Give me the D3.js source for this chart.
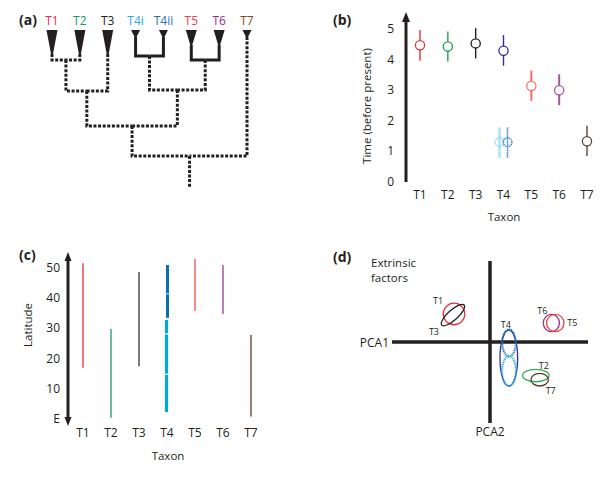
<!DOCTYPE html>
<html>
<head>
<meta charset="utf-8">
<script src="https://cdn.jsdelivr.net/npm/d3@7/dist/d3.min.js"></script>
<style>
body{margin:0;background:#fff;}
svg{font-family:"Open Sans",sans-serif;}
</style>
</head>
<body>
<svg id="fig" width="616" height="478"></svg>
<script>
// ---------- (a) tree ----------
var leafNames = ["T1","T2","T3","T4i","T4ii","T5","T6","T7"];
var leafColors = ["#ec2a4a","#159a6a","#231f20","#27aae1","#2b6cb4","#ee3d4f","#9a2b8d","#8b4513"];
var leafTip = [1.0,1.0,1.0,0.29,0.29,0.63,0.63,0.29]; // triangle length, age units
// [name, childA, childB, age, solid]
var treeJoins = [
	["n12","T1","T2",1.25,false],
	["n4","T4i","T4ii",1.08,true],
	["n56","T5","T6",1.25,true],
	["n123","n12","T3",2.55,false],
	["n456","n4","n56",2.5,false],
	["n16","n123","n456",4.0,false],
	["root","n16","T7",5.26,false]
];
var rootStem = 6.55;

// ---------- (b) time ----------
var taxa = ["T1","T2","T3","T4","T5","T6","T7"];
var timeColors = ["#e8303a","#1f9e57","#231f20","#2e3192","#f37164","#a2589f","#5b4436"];
var timeMid = [4.47,4.43,4.53,4.29,3.14,3.0,1.33];
var timeLo  = [3.96,3.94,4.04,3.80,2.65,2.51,0.85];
var timeHi  = [4.97,4.92,5.03,4.80,3.64,3.52,1.84];
var timeTicks = [0,1,2,3,4,5];
// T4 sub-lineages (dotted)
var subNames = ["T4i","T4ii"];
var subColors = ["#7fd3f0","#1c75bc"];
var subMid = [1.30,1.30];
var subLo = [0.80,0.80];
var subHi = [1.80,1.80];

// ---------- (c) latitude ----------
var latColors = ["#ec1c24","#138a5e","#231f20","#0b6fb0","#ef4136","#92278f","#4b2a1e"];
var latLo = [17,0.4,17.5,null,35.8,34.8,0.8];
var latHi = [51.6,29.8,48.7,null,53,51,27.8];
var latTicks = [0,10,20,30,40,50];
var latTickLabels = ["E","10","20","30","40","50"];
var t4DarkSegs = [[33.5,41.3],[41.6,51]];
var t4LightSegs = [[2.3,14.6],[15.0,28.0],[28.4,32.8]];

// ---------- (d) PCA ----------
// [taxon, pca1, pca2, r1, r2, angle, colour, dotted]
var pcaEllipses = [
	["T1",-0.367,0.346,0.110,0.133,0,"#e8303a",false],
	["T3",-0.378,0.333,0.153,0.062,-42,"#231f20",false],
	["T6",0.626,0.235,0.082,0.107,0,"#93328e",false],
	["T5",0.666,0.235,0.089,0.107,0,"#ef4136",false],
	["T4",0.192,-0.198,0.090,0.346,0,"#2e3192",false],
	["T4i",0.194,-0.012,0.068,0.167,0,"#1c75bc",true],
	["T4ii",0.194,-0.358,0.071,0.185,0,"#27aae1",true],
	["T2",0.467,-0.414,0.135,0.077,0,"#3aaa5c",false],
	["T7",0.507,-0.465,0.089,0.078,0,"#5a3a2a",false]
];

var svg = d3.select('#fig');

function panelLabel(txt, x, y){
	svg.append('text').attr('x', x).attr('y', y)
		.attr('font-size', 14).attr('font-weight', 'bold').attr('fill', '#231f20')
		.text(txt);
}

// ================= (a) =================
panelLabel('(a)', 19, 25);
var ax = d3.scalePoint().domain(leafNames).range([52, 247]);
var ay = d3.scaleLinear().domain([0, rootStem]).range([30, 187]);
var nodes = {};
leafNames.forEach(function(n, i){
	nodes[n] = {x: ax(n), age: leafTip[i], leaf: true};
});
treeJoins.forEach(function(j){
	nodes[j[0]] = {x: (nodes[j[1]].x + nodes[j[2]].x)/2, age: j[3], leaf: false};
});
var ga = svg.append('g');
treeJoins.forEach(function(j){
	var p = nodes[j[0]];
	[j[1], j[2]].forEach(function(c){
		var ch = nodes[c];
		ga.append('path')
			.attr('d', 'M' + ch.x + ',' + ay(ch.age) + 'V' + ay(p.age) + 'H' + p.x)
			.attr('fill', 'none').attr('stroke', '#231f20').attr('stroke-width', 3)
			.attr('stroke-dasharray', j[4] ? null : '3,1.6')
			.attr('stroke-linejoin', 'miter');
	});
});
ga.append('line')
	.attr('x1', nodes.root.x).attr('x2', nodes.root.x)
	.attr('y1', ay(nodes.root.age)).attr('y2', ay(rootStem))
	.attr('stroke', '#231f20').attr('stroke-width', 3).attr('stroke-dasharray', '3,1.6');
ga.selectAll('path.tri').data(leafNames).enter().append('path')
	.attr('class', 'tri')
	.attr('d', function(d, i){
		var x = ax(d), h = leafTip[i] > 0.5 ? 5.5 : 4.5;
		return 'M' + (x - h) + ',' + ay(0) + 'L' + (x + h) + ',' + ay(0) +
			'L' + (x + 1) + ',' + ay(leafTip[i]) + 'L' + (x - 1) + ',' + ay(leafTip[i]) + 'Z';
	})
	.attr('fill', '#231f20');
ga.selectAll('text.leaf').data(leafNames).enter().append('text')
	.attr('class', 'leaf')
	.attr('x', function(d){ return ax(d); })
	.attr('y', 25)
	.attr('text-anchor', 'middle').attr('font-size', 12)
	.attr('fill', function(d, i){ return leafColors[i]; })
	.text(function(d){ return d; });

// ================= (b) =================
panelLabel('(b)', 333, 25);
var bx = d3.scalePoint().domain(taxa).range([420, 587]);
var by = d3.scaleLinear().domain([0, 5]).range([182, 29]);
var gb = svg.append('g');
gb.append('line').attr('x1', 406).attr('x2', 406).attr('y1', by(0)).attr('y2', 20)
	.attr('stroke', '#231f20').attr('stroke-width', 3);
gb.append('path').attr('d', 'M402,22L406,12L410,22Z').attr('fill', '#231f20');
gb.selectAll('text.yt').data(timeTicks).enter().append('text')
	.attr('class', 'yt')
	.attr('x', 394).attr('y', function(d){ return by(d) + 4; })
	.attr('text-anchor', 'end').attr('font-size', 12).attr('fill', '#231f20')
	.text(function(d){ return d; });
gb.selectAll('line.err').data(taxa).enter().append('line')
	.attr('class', 'err')
	.attr('x1', function(d){ return bx(d); }).attr('x2', function(d){ return bx(d); })
	.attr('y1', function(d, i){ return by(timeLo[i]); })
	.attr('y2', function(d, i){ return by(timeHi[i]); })
	.attr('stroke', function(d, i){ return timeColors[i]; })
	.attr('stroke-width', function(d, i){ return (i == 4 || i == 5) ? 2 : 1.4; });
gb.selectAll('circle.pt').data(taxa).enter().append('circle')
	.attr('class', 'pt')
	.attr('cx', function(d){ return bx(d); })
	.attr('cy', function(d, i){ return by(timeMid[i]); })
	.attr('r', 4.6).attr('fill', '#fff')
	.attr('stroke', function(d, i){ return timeColors[i]; }).attr('stroke-width', 1.3);
var subOff = [-4, 4];
subNames.forEach(function(s, i){
	var x = bx('T4') + subOff[i];
	gb.append('line').attr('x1', x).attr('x2', x)
		.attr('y1', by(subLo[i])).attr('y2', by(subHi[i]))
		.attr('stroke', subColors[i]).attr('stroke-width', i == 0 ? 2.6 : 1.5)
		.attr('stroke-dasharray', '1.2,0.8');
	gb.append('circle').attr('cx', x).attr('cy', by(subMid[i])).attr('r', 4.4)
		.attr('fill', 'none').attr('stroke', subColors[i]).attr('stroke-width', 1.3)
		.attr('stroke-dasharray', '1.2,0.8');
});
gb.selectAll('text.xt').data(taxa).enter().append('text')
	.attr('class', 'xt')
	.attr('x', function(d){ return bx(d); }).attr('y', 199)
	.attr('text-anchor', 'middle').attr('font-size', 12).attr('fill', '#231f20')
	.text(function(d){ return d; });
gb.append('text').attr('x', 504).attr('y', 221).attr('text-anchor', 'middle')
	.attr('font-size', 11.5).attr('fill', '#231f20').text('Taxon');
gb.append('text').attr('transform', 'translate(371,106) rotate(-90)')
	.attr('text-anchor', 'middle').attr('font-size', 11.5).attr('fill', '#231f20')
	.text('Time (before present)');

// ================= (c) =================
panelLabel('(c)', 19, 260);
var cx = d3.scalePoint().domain(taxa).range([83, 251]);
var cy = d3.scaleLinear().domain([0, 50]).range([419, 268]);
var gc = svg.append('g');
gc.append('line').attr('x1', 68).attr('x2', 68).attr('y1', 259).attr('y2', 419)
	.attr('stroke', '#231f20').attr('stroke-width', 3);
gc.append('path').attr('d', 'M64.5,261L68,252L71.5,261Z').attr('fill', '#231f20');
gc.append('path').attr('d', 'M64.5,417L68,426L71.5,417Z').attr('fill', '#231f20');
gc.selectAll('text.yt').data(latTicks).enter().append('text')
	.attr('class', 'yt')
	.attr('x', 60).attr('y', function(d){ return cy(d) + 4; })
	.attr('text-anchor', 'end').attr('font-size', 12).attr('fill', '#231f20')
	.text(function(d, i){ return latTickLabels[i]; });
gc.selectAll('line.rng').data(taxa.filter(function(d, i){ return latLo[i] !== null; }))
	.enter().append('line')
	.attr('class', 'rng')
	.attr('x1', function(d){ return cx(d); }).attr('x2', function(d){ return cx(d); })
	.attr('y1', function(d){ return cy(latLo[taxa.indexOf(d)]); })
	.attr('y2', function(d){ return cy(latHi[taxa.indexOf(d)]); })
	.attr('stroke', function(d){ return latColors[taxa.indexOf(d)]; })
	.attr('stroke-width', 1.2);
gc.selectAll('line.t4d').data(t4DarkSegs).enter().append('line')
	.attr('x1', cx('T4') + 0.5).attr('x2', cx('T4') + 0.5)
	.attr('y1', function(d){ return cy(d[0]); }).attr('y2', function(d){ return cy(d[1]); })
	.attr('stroke', '#0b6fb0').attr('stroke-width', 3);
gc.selectAll('line.t4l').data(t4LightSegs).enter().append('line')
	.attr('x1', cx('T4') - 0.5).attr('x2', cx('T4') - 0.5)
	.attr('y1', function(d){ return cy(d[0]); }).attr('y2', function(d){ return cy(d[1]); })
	.attr('stroke', '#00aad2').attr('stroke-width', 3.2);
gc.selectAll('text.xt').data(taxa).enter().append('text')
	.attr('class', 'xt')
	.attr('x', function(d){ return cx(d); }).attr('y', 437)
	.attr('text-anchor', 'middle').attr('font-size', 12).attr('fill', '#231f20')
	.text(function(d){ return d; });
gc.append('text').attr('x', 168).attr('y', 460).attr('text-anchor', 'middle')
	.attr('font-size', 11.5).attr('fill', '#231f20').text('Taxon');
gc.append('text').attr('transform', 'translate(32,325) rotate(-90)')
	.attr('text-anchor', 'middle').attr('font-size', 11.5).attr('fill', '#231f20')
	.text('Latitude');

// ================= (d) =================
panelLabel('(d)', 333, 262);
var dx = d3.scaleLinear().domain([-1, 1]).range([392, 588]);
var dy = d3.scaleLinear().domain([-1, 1]).range([423, 261]);
var gd = svg.append('g');
gd.append('line').attr('x1', dx(-1)).attr('x2', dx(1)).attr('y1', dy(0)).attr('y2', dy(0))
	.attr('stroke', '#231f20').attr('stroke-width', 3.5);
gd.append('line').attr('x1', dx(0)).attr('x2', dx(0)).attr('y1', dy(1)).attr('y2', dy(-1))
	.attr('stroke', '#231f20').attr('stroke-width', 3.5);
gd.append('text').attr('x', 389).attr('y', 347).attr('text-anchor', 'end')
	.attr('font-size', 12).attr('fill', '#231f20').text('PCA1');
gd.append('text').attr('x', 490).attr('y', 436).attr('text-anchor', 'middle')
	.attr('font-size', 12).attr('fill', '#231f20').text('PCA2');
gd.append('text').attr('x', 371).attr('y', 267)
	.attr('font-size', 11.5).attr('fill', '#231f20').text('Extrinsic');
gd.append('text').attr('x', 371).attr('y', 282)
	.attr('font-size', 11.5).attr('fill', '#231f20').text('factors');
gd.selectAll('ellipse').data(pcaEllipses).enter().append('ellipse')
	.attr('transform', function(d){
		return 'translate(' + dx(d[1]) + ',' + dy(d[2]) + ') rotate(' + d[5] + ')';
	})
	.attr('rx', function(d){ return dx(d[3]) - dx(0); })
	.attr('ry', function(d){ return dy(0) - dy(d[4]); })
	.attr('fill', 'none')
	.attr('stroke', function(d){ return d[6]; })
	.attr('stroke-width', function(d){ return d[7] ? 2.2 : 1.3; })
	.attr('stroke-dasharray', function(d){ return d[7] ? '1,0.8' : null; });
// label offsets from ellipse centres, px
var pcaLabelOff = {T1:[-16,-13], T3:[-19,17], T6:[-9,-12], T5:[17,0], T4:[-3,-33], T2:[8,-10], T7:[11,11]};
gd.selectAll('text.el').data(pcaEllipses.filter(function(d){ return pcaLabelOff[d[0]]; }))
	.enter().append('text')
	.attr('class', 'el')
	.attr('x', function(d){ return dx(d[1]) + pcaLabelOff[d[0]][0]; })
	.attr('y', function(d){ return dy(d[2]) + pcaLabelOff[d[0]][1] + 3; })
	.attr('text-anchor', 'middle').attr('font-size', 9).attr('fill', '#231f20')
	.text(function(d){ return d[0]; });
</script>
</body>
</html>
